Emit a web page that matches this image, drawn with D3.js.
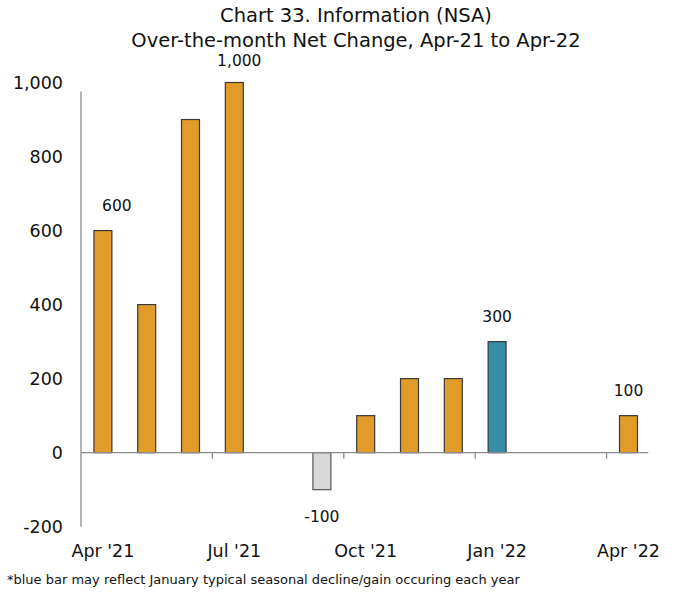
<!DOCTYPE html>
<html>
<head>
<meta charset="utf-8">
<script src="https://cdn.jsdelivr.net/npm/d3@7"></script>
<style>
  html, body { margin: 0; padding: 0; background: #fff; }
  svg { display: block; font-family: "DejaVu Sans", "Noto Sans", sans-serif; }
</style>
</head>
<body>
<svg id="chart" width="674" height="594"></svg>
<script>
// Monthly over-the-month net change, Information sector (not seasonally adjusted)
const months = ["Apr '21", "May '21", "Jun '21", "Jul '21", "Aug '21", "Sep '21", "Oct '21",
                "Nov '21", "Dec '21", "Jan '22", "Feb '22", "Mar '22", "Apr '22"];
const values = [600, 400, 900, 1000, 0, -100, 100, 200, 200, 300, 0, 0, 100];
const labeledMonths = ["Apr '21", "Jul '21", "Sep '21", "Jan '22", "Apr '22"];
const tickMonths = ["Apr '21", "Jul '21", "Oct '21", "Jan '22", "Apr '22"];
const yTicks = [-200, 0, 200, 400, 600, 800, 1000];
const titleLines = ["Chart 33. Information (NSA)", "Over-the-month Net Change, Apr-21 to Apr-22"];
const footnote = "*blue bar may reflect January typical seasonal decline/gain occuring each year";

const colors = { gain: "#E19B29", loss: "#D9D9D9", january: "#358DA8" };
const barColor = (m, v) => m.startsWith("Jan") ? colors.january : (v < 0 ? colors.loss : colors.gain);

// Thousands separator with a plain hyphen for negatives
const fmt = d3.formatLocale({ decimal: ".", thousands: ",", grouping: [3], currency: ["", ""], minus: "-" }).format(",");

const svg = d3.select("#chart");
const margin = { left: 81, top: 82.5 };

const x = d3.scaleBand().domain(months).range([margin.left, margin.left + 13 * 43.8]).paddingInner(0.59).paddingOuter(0.295);
const y = d3.scaleLinear().domain([-200, 1000]).range([526.7, margin.top]);

// Titles
svg.append("g").selectAll("text").data(titleLines).join("text")
  .attr("x", 356).attr("y", (d, i) => 22 + i * 25)
  .attr("text-anchor", "middle").attr("font-size", 19.5).attr("fill", "#111")
  .text(d => d);

// Y axis labels (no tick marks)
svg.append("g").selectAll("text").data(yTicks).join("text")
  .attr("x", 63).attr("y", d => y(d)).attr("dy", "0.36em")
  .attr("text-anchor", "end").attr("font-size", 17.5).attr("fill", "#111")
  .text(d => fmt(d));

// Y axis line
svg.append("line")
  .attr("x1", x.range()[0]).attr("x2", x.range()[0])
  .attr("y1", y(-200)).attr("y2", y(1000) + 9)
  .attr("stroke", "#8a8a8a").attr("stroke-width", 1.3);

// Bars
svg.append("g").selectAll("rect").data(months.map((m, i) => ({ m, v: values[i] })).filter(d => d.v !== 0))
  .join("rect")
  .attr("x", d => x(d.m))
  .attr("width", x.bandwidth())
  .attr("y", d => y(Math.max(0, d.v)))
  .attr("height", d => Math.abs(y(d.v) - y(0)))
  .attr("fill", d => barColor(d.m, d.v))
  .attr("stroke", d => d.v < 0 ? "#555" : "#3a3a3a")
  .attr("stroke-width", 1.2);

// X axis (zero line) with ticks at quarter boundaries
const step = x.step();
svg.append("line")
  .attr("x1", x.range()[0]).attr("x2", x.range()[1] - 2)
  .attr("y1", y(0)).attr("y2", y(0))
  .attr("stroke", "#8a8a8a").attr("stroke-width", 1.3);
svg.append("g").selectAll("line").data(tickMonths.slice(1))
  .join("line")
  .attr("x1", d => x(d) + x.bandwidth() / 2 - step / 2)
  .attr("x2", d => x(d) + x.bandwidth() / 2 - step / 2)
  .attr("y1", y(0)).attr("y2", y(0) + 6)
  .attr("stroke", "#8a8a8a").attr("stroke-width", 1.3);

// X tick labels
svg.append("g").selectAll("text").data(tickMonths).join("text")
  .attr("x", d => x(d) + x.bandwidth() / 2).attr("y", 557)
  .attr("text-anchor", "middle").attr("font-size", 17.5).attr("fill", "#111")
  .text(d => d);

// Value labels
const labelShift = { "Apr '21": 14, "Jul '21": 5 };
const labelGap = { "Jul '21": 22 };
svg.append("g").selectAll("text")
  .data(months.map((m, i) => ({ m, v: values[i] })).filter(d => labeledMonths.includes(d.m)))
  .join("text")
  .attr("x", d => x(d.m) + x.bandwidth() / 2 + (labelShift[d.m] || 0))
  .attr("y", d => d.v >= 0 ? y(d.v) - (labelGap[d.m] || 25) : y(d.v) + 27)
  .attr("dy", "0.36em")
  .attr("text-anchor", "middle").attr("font-size", 15.5).attr("fill", "#111")
  .text(d => fmt(d.v));

// Footnote
svg.append("text").attr("x", 7).attr("y", 584)
  .attr("font-size", 13).attr("fill", "#111").text(footnote);
</script>
</body>
</html>
